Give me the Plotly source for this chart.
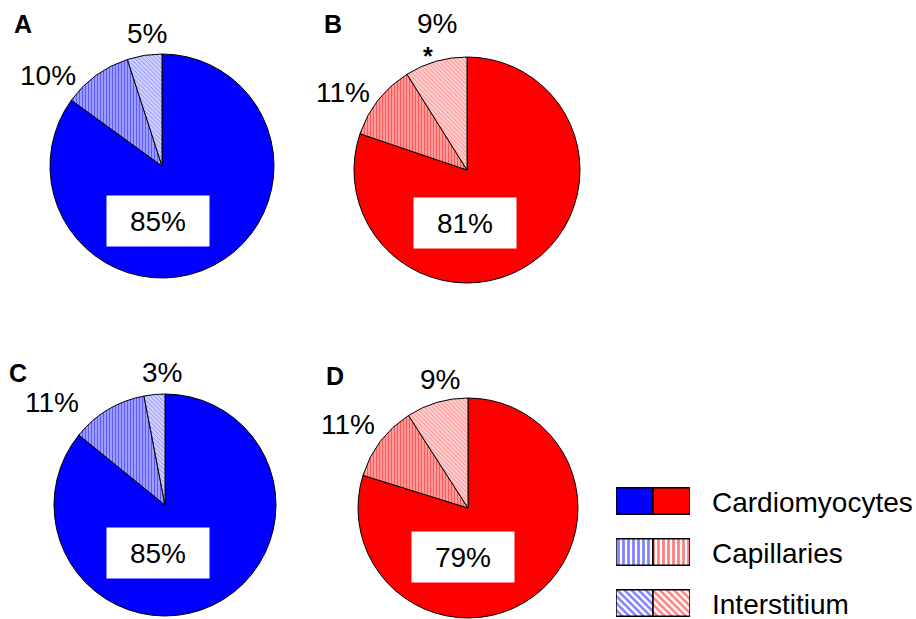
import plotly.graph_objects as go

# Share of myocardial volume per compartment (%)
compartments = ["Cardiomyocytes", "Capillaries", "Interstitium"]
panel_a = [85, 10, 5]
panel_b = [81, 11, 9]
panel_c = [85, 11, 3]
panel_d = [79, 11, 9]
panel_letters = ["A", "B", "C", "D"]
starred = {"B": "Interstitium"}

W, H = 916, 619
BLUE, RED = "#0000ff", "#ff0000"
TINT = {BLUE: "#d0d0ff", RED: "#ffcccc"}
STRIPE_BG = {BLUE: "#b4b4ff", RED: "#ffb0b0"}

def px(x):
    return x / W

def py(y):
    return 1 - y / H

# panel layout: centre (px), radius (px), colour
panels = [
    dict(vals=panel_a, cx=162, cy=166, r=112, col=BLUE),
    dict(vals=panel_b, cx=467, cy=170, r=113, col=RED),
    dict(vals=panel_c, cx=165, cy=505, r=111, col=BLUE),
    dict(vals=panel_d, cx=468, cy=508, r=110, col=RED),
]

fig = go.Figure()

for p in panels:
    col = p["col"]
    fig.add_trace(go.Pie(
        labels=compartments,
        values=p["vals"],
        sort=False,
        direction="clockwise",
        rotation=0,
        textinfo="none",
        hoverinfo="skip",
        showlegend=False,
        domain=dict(x=[px(p["cx"] - p["r"]), px(p["cx"] + p["r"])],
                    y=[py(p["cy"] + p["r"]), py(p["cy"] - p["r"])]),
        marker=dict(
            colors=[col, STRIPE_BG[col], TINT[col]],
            line=dict(color="black", width=1),
            pattern=dict(
                shape=["", "|", "\\"],
                fgcolor=[col, col, col],
                bgcolor=[col, STRIPE_BG[col], TINT[col]],
                size=[3, 3, 3],
                solidity=[1, 0.5, 0.22],
                fillmode="overlay",
            ),
        ),
    ))

# legend swatches: one patterned bar per compartment and colour
legend_shapes = ["", "|", "\\"]
legend_solidity = [1, 0.55, 0.5]
for ri, (name, shp, sol) in enumerate(zip(compartments, legend_shapes, legend_solidity)):
    for ci, col in enumerate([BLUE, RED]):
        pat = dict(shape=shp, fgcolor=col, bgcolor="white", size=5, solidity=sol) if shp else None
        fig.add_trace(go.Bar(
            orientation="h",
            y=[ri],
            x=[1],
            base=[ci],
            width=0.52,
            name=name,
            hoverinfo="skip",
            showlegend=False,
            marker=dict(
                color=col if not shp else "white",
                line=dict(color="black", width=1.5),
                pattern=pat,
            ),
            xaxis="x", yaxis="y",
        ))

annotations = []
font_big = dict(family="Liberation Sans, Arial, sans-serif", size=28, color="black")
font_letter = dict(family="Liberation Sans, Arial, sans-serif", size=25, color="black")

def add_text(text, x, y, font=font_big, **kw):
    annotations.append(dict(text=text, x=px(x), y=py(y), xref="paper", yref="paper",
                            xanchor="center", yanchor="middle", showarrow=False,
                            font=font, **kw))

# panel letters
for letter, (lx, ly) in zip(panel_letters, [(23, 24), (333, 24), (18, 373), (335, 376)]):
    add_text(f"<b>{letter}</b>", lx, ly, font=font_letter)

# label positions per panel: (cardiomyocyte box centre, capillaries, interstitium)
label_pos = [
    ((158, 220), (48, 75), (147, 34)),
    ((465, 222), (343, 93), (437, 24)),
    ((158, 552), (52, 402), (162, 373)),
    ((463, 556), (348, 424), (440, 380)),
]
for letter, p, (box, cap, inter) in zip(panel_letters, panels, label_pos):
    v = p["vals"]
    add_text(f"{v[0]}%", box[0], box[1] + 1, bgcolor="white", width=100, height=48, borderpad=1)
    add_text(f"{v[1]}%", cap[0], cap[1])
    add_text(f"{v[2]}%", inter[0], inter[1])
    if starred.get(letter) == "Interstitium":
        add_text("<b>*</b>", inter[0] - 9, inter[1] + 32, font=font_letter)

# legend labels
for name, ly in zip(compartments, [502, 553, 604]):
    annotations.append(dict(text=name, x=px(710), y=py(ly), xref="paper", yref="paper",
                            xanchor="left", yanchor="middle", showarrow=False,
                            font=font_big))

fig.update_layout(
    width=W, height=H,
    margin=dict(l=0, r=0, t=0, b=0),
    paper_bgcolor="white", plot_bgcolor="white",
    annotations=annotations,
    xaxis=dict(domain=[px(616), px(690)], range=[0, 2], visible=False, fixedrange=True),
    yaxis=dict(domain=[0, py(475.5)], range=[2.314, -0.5], visible=False, fixedrange=True),
    barmode="overlay",
)

fig.write_html("out.html")
